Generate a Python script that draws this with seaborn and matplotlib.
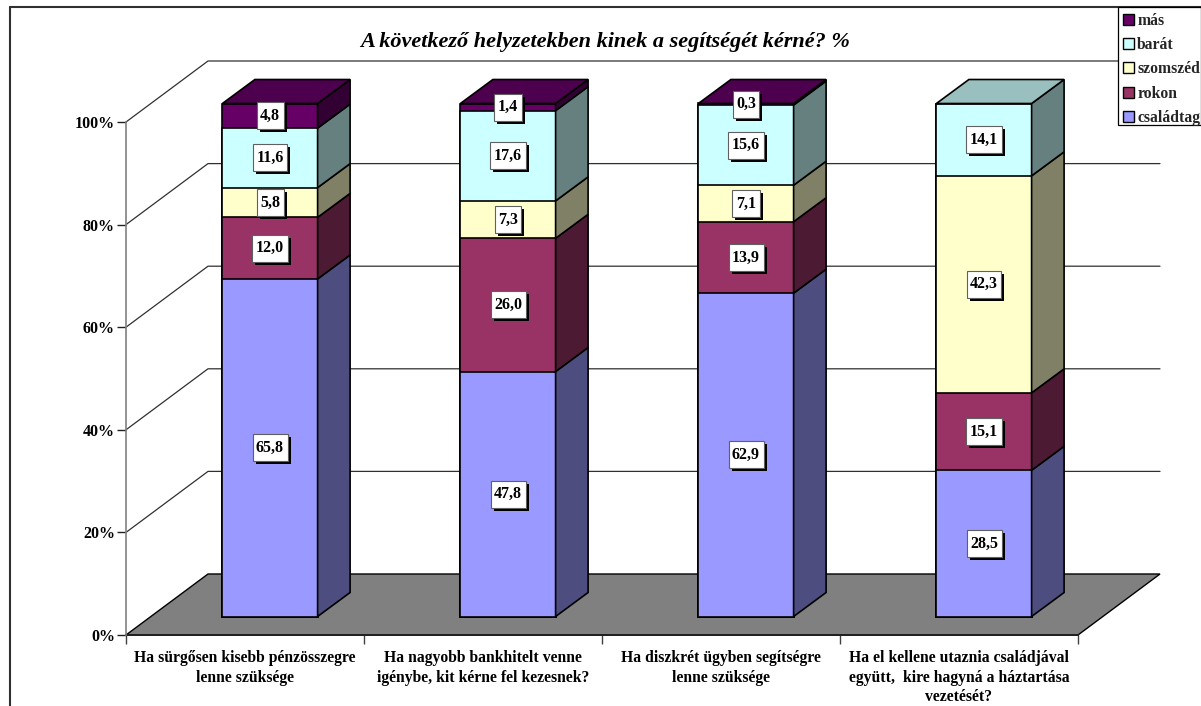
import numpy as np
import pandas as pd
import seaborn as sns
import matplotlib.pyplot as plt
from matplotlib.lines import Line2D
from matplotlib.patches import Patch, Polygon, Rectangle
from matplotlib.transforms import IdentityTransform

# Chart data
categories = [
    "Ha sürgősen kisebb pénzösszegre\nlenne szüksége",
    "Ha nagyobb bankhitelt venne\nigénybe, kit kérne fel kezesnek?",
    "Ha diszkrét ügyben segítségre\nlenne szüksége",
    "Ha el kellene utaznia családjával\negyütt,  kire hagyná a háztartása\nvezetését?",
]
series_names = ["családtag", "rokon", "szomszéd", "barát", "más"]
csaladtag = [65.8, 47.8, 62.9, 28.5]
rokon = [12.0, 26.0, 13.9, 15.1]
szomszed = [5.8, 7.3, 7.1, 42.3]
barat = [11.6, 17.6, 15.6, 14.1]
mas = [4.8, 1.4, 0.3, 0.0]
y_ticks = [0, 20, 40, 60, 80, 100]
colors = ["#9999FF", "#993366", "#FFFFCC", "#CCFFFF", "#660066"]

WIDTH, HEIGHT = 1201, 706
AX_LEFT, AX_RIGHT, AX_TOP, AX_BOTTOM = 126, 1078, 122, 635
BAR_WIDTH = 0.4

sns.set_theme(style="white")
plt.rcParams["font.family"] = ["Liberation Serif", "DejaVu Serif"]
plt.rcParams["font.weight"] = "bold"

fig = plt.figure(figsize=(WIDTH / 100, HEIGHT / 100), dpi=100)
ax = fig.add_axes([
    AX_LEFT / WIDTH,
    1 - AX_BOTTOM / HEIGHT,
    (AX_RIGHT - AX_LEFT) / WIDTH,
    (AX_BOTTOM - AX_TOP) / HEIGHT,
])

# pixel sizes of the fake 3d depth, converted to data units
px_x = 4 / (AX_RIGHT - AX_LEFT)
px_y = 100 / (AX_BOTTOM - AX_TOP)
wall_dx, wall_dy = 82 * px_x, 61 * px_y
front_dx, front_dy = 25 * px_x, 18.5 * px_y
side_dx, side_dy = 32.5 * px_x, 24 * px_y


def shade(color, factor):
    r, g, b = plt.matplotlib.colors.to_rgb(color)
    return (r * factor, g * factor, b * factor)


# 100% stacked, so every column is rescaled to its own total
values = np.array([csaladtag, rokon, szomszed, barat, mas])
shares = values / values.sum(axis=0) * 100
tops = shares.cumsum(axis=0)
x_pos = np.arange(len(categories))
x_min, x_max = -0.5, len(categories) - 0.5

# Floor and walls
ax.add_patch(Polygon(
    [(x_min, 0), (x_min + wall_dx, wall_dy), (x_max + wall_dx, wall_dy), (x_max, 0)],
    facecolor="#808080", edgecolor="black", linewidth=1.0, clip_on=False, zorder=1,
))
for tick in y_ticks[1:]:
    ax.plot(
        [x_min, x_min + wall_dx, x_max + wall_dx],
        [tick, tick + wall_dy, tick + wall_dy],
        color="#303030", linewidth=0.9, clip_on=False, zorder=1,
    )

# Front faces, tallest layer first so lower segments sit on top
for i in reversed(range(len(series_names))):
    before = len(ax.patches)
    df = pd.DataFrame({"question": categories, "top": tops[i]})
    sns.barplot(
        data=df, x="question", y="top", order=categories, color=colors[i],
        saturation=1, width=BAR_WIDTH, errorbar=None, edgecolor="black",
        linewidth=1.2, clip_on=False, zorder=3, ax=ax,
    )
    for bar in ax.patches[before:]:
        bar.set_x(bar.get_x() + front_dx)
        bar.set_y(front_dy)

# Side and top faces
for col, x in enumerate(x_pos):
    x_right = x + BAR_WIDTH / 2 + front_dx
    x_left = x - BAR_WIDTH / 2 + front_dx
    low = 0
    for i in range(len(series_names)):
        high = tops[i][col]
        if shares[i][col] == 0:
            continue
        ax.add_patch(Polygon(
            [(x_right, low + front_dy), (x_right + side_dx, low + front_dy + side_dy),
             (x_right + side_dx, high + front_dy + side_dy), (x_right, high + front_dy)],
            facecolor=shade(colors[i], 0.5), edgecolor="black", linewidth=1.2,
            clip_on=False, zorder=3,
        ))
        low = high
        top_color = colors[i]
    ax.add_patch(Polygon(
        [(x_left, low + front_dy), (x_left + side_dx, low + front_dy + side_dy),
         (x_right + side_dx, low + front_dy + side_dy), (x_right, low + front_dy)],
        facecolor=shade(top_color, 0.75), edgecolor="black", linewidth=1.2,
        clip_on=False, zorder=3,
    ))

# Axes
ax.set_xlim(x_min, x_max)
ax.set_ylim(0, 100)
ax.set_xlabel("")
ax.set_ylabel("")
ax.set_yticks(y_ticks)
ax.set_yticklabels([f"{t}%" for t in y_ticks], fontsize=11.5, fontweight="bold", color="black")
ax.set_xticks(x_pos)
ax.set_xticklabels(categories, fontsize=11.3, fontweight="bold", color="black", linespacing=1.3)
ax.set_xticks(np.arange(x_min, x_max + 1), minor=True)
ax.tick_params(axis="x", which="major", bottom=False, length=0, pad=11)
ax.tick_params(axis="x", which="minor", bottom=True, length=6.5, width=1.0, color="#404040")
ax.tick_params(axis="y", left=True, length=6.5, width=1.0, color="#202020", pad=1.5)
for name in ["top", "right"]:
    ax.spines[name].set_visible(False)
ax.spines["left"].set_color("#808080")
ax.spines["left"].set_linewidth(1.2)
ax.spines["left"].set_bounds(0, 100)
ax.spines["bottom"].set_color("#202020")
ax.spines["bottom"].set_linewidth(1.4)
ax.spines["bottom"].set_zorder(2)
ax.set_axisbelow(True)

# Value labels: white box with a black drop shadow
fig.canvas.draw()
renderer = fig.canvas.get_renderer()
for i in range(len(series_names)):
    for col, x in enumerate(x_pos):
        if shares[i][col] == 0:
            continue
        y = tops[i][col] - shares[i][col] / 2 + front_dy
        label = f"{values[i][col]:.1f}".replace(".", ",")
        cx, cy = ax.transData.transform((x + front_dx, y))
        txt = fig.text(
            cx / WIDTH, cy / HEIGHT, label, ha="center", va="center", fontsize=11.5,
            fontweight="bold", color="black", zorder=8,
        )
        w, h = txt.get_window_extent(renderer).width + 7, 27
        fig.add_artist(Rectangle(
            (cx - w / 2 + 3, cy - h / 2 - 3), w, h, transform=IdentityTransform(),
            facecolor="black", edgecolor="black", linewidth=0, zorder=6,
        ))
        fig.add_artist(Rectangle(
            (cx - w / 2, cy - h / 2), w, h, transform=IdentityTransform(),
            facecolor="white", edgecolor="#606060", linewidth=0.8, zorder=7,
        ))

# Title and chart frame
fig.text(605 / WIDTH, 1 - 41.5 / HEIGHT, "A következő helyzetekben kinek a segítségét kérné? %",
         ha="center", va="center", fontsize=16, fontweight="bold", fontstyle="italic", color="black")
fig.add_artist(Line2D([10 / WIDTH, 10 / WIDTH], [0, 1 - 6.5 / HEIGHT], color="#303030", linewidth=1.5))
fig.add_artist(Line2D([10 / WIDTH, 1], [1 - 6.5 / HEIGHT, 1 - 6.5 / HEIGHT], color="#303030", linewidth=1.5))

# Legend in the top right corner, reversed order; the box is drawn separately
# because the reference has less room under the last row than above the first
fig.add_artist(Rectangle(
    (1118, HEIGHT - 125), 83, 118, transform=IdentityTransform(),
    facecolor="white", edgecolor="black", linewidth=0.9, zorder=9,
))
handles = [Patch(facecolor=colors[i], edgecolor="black", linewidth=1.0, label=series_names[i])
           for i in reversed(range(len(series_names)))]
legend = fig.legend(
    handles=handles, loc="upper left", bbox_to_anchor=(1118 / WIDTH, 1 - 8 / HEIGHT),
    borderaxespad=0, borderpad=0.3, frameon=False, handlelength=0.72, handleheight=0.72,
    handletextpad=0.2, labelspacing=0.53, prop={"family": "Liberation Serif", "weight": "bold", "size": 11.3},
)
legend.set_zorder(10)

fig.savefig("out.png", dpi=100)
